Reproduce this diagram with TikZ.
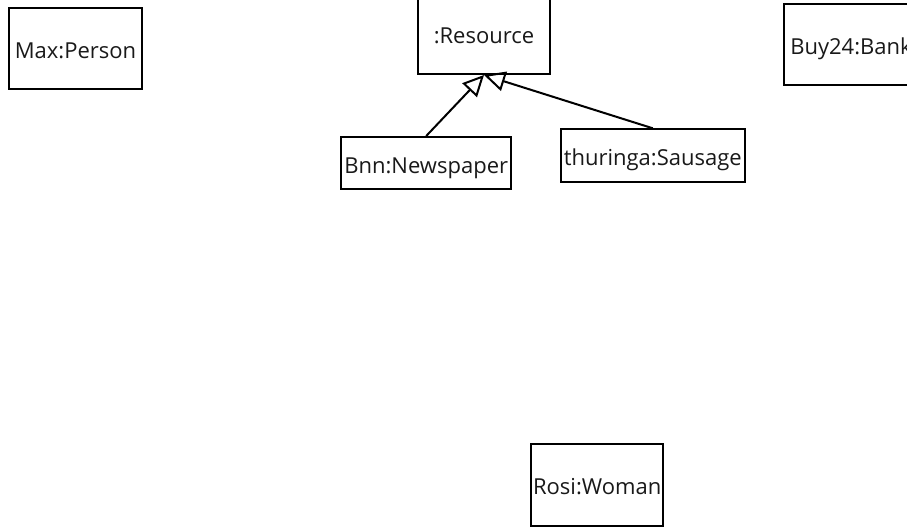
\documentclass[tikz,border=0pt]{standalone}
\usepackage{fontspec}
\setmainfont{Open Sans}
\usetikzlibrary{arrows.meta}
\begin{document}
\begin{tikzpicture}[x=1pt,y=-1pt,
  objbox/.style={draw=black, line width=2pt, inner sep=0pt, text height=20pt, text depth=0pt,
    font=\fontsize{22}{26}\selectfont, text=black!90},
  gen/.style={draw=black, line width=2pt, -{Triangle[open,length=21pt,width=20pt]}}]
\useasboundingbox (0,0) rectangle (907,527);
\begin{scope}
\clip (0,0) rectangle (907,527);
\node[objbox, minimum width=132.4pt, minimum height=81.3pt] (max) at (75.5,48.3) {Max:Person};
\node[objbox, minimum width=131.4pt, minimum height=80pt] (res) at (484,34) {:Resource};
\node[objbox, minimum width=132pt, minimum height=81.3pt, inner xsep=6pt, anchor=west] (bank) at (783.3,44.3) {Buy24:Bank};
\node[objbox, minimum width=170.3pt, minimum height=52pt] (bnn) at (426.2,163) {Bnn:Newspaper};
\node[objbox, minimum width=183.7pt, minimum height=52.4pt] (thur) at (652.8,155.5) {thuringa:Sausage};
\node[objbox, minimum width=132.3pt, minimum height=82pt] (rosi) at (597.2,484.7) {Rosi:Woman};
\draw[gen] (bnn.north) -- (res.south);
\draw[gen] (thur.north) -- (res.south);
\end{scope}
\end{tikzpicture}
\end{document}
